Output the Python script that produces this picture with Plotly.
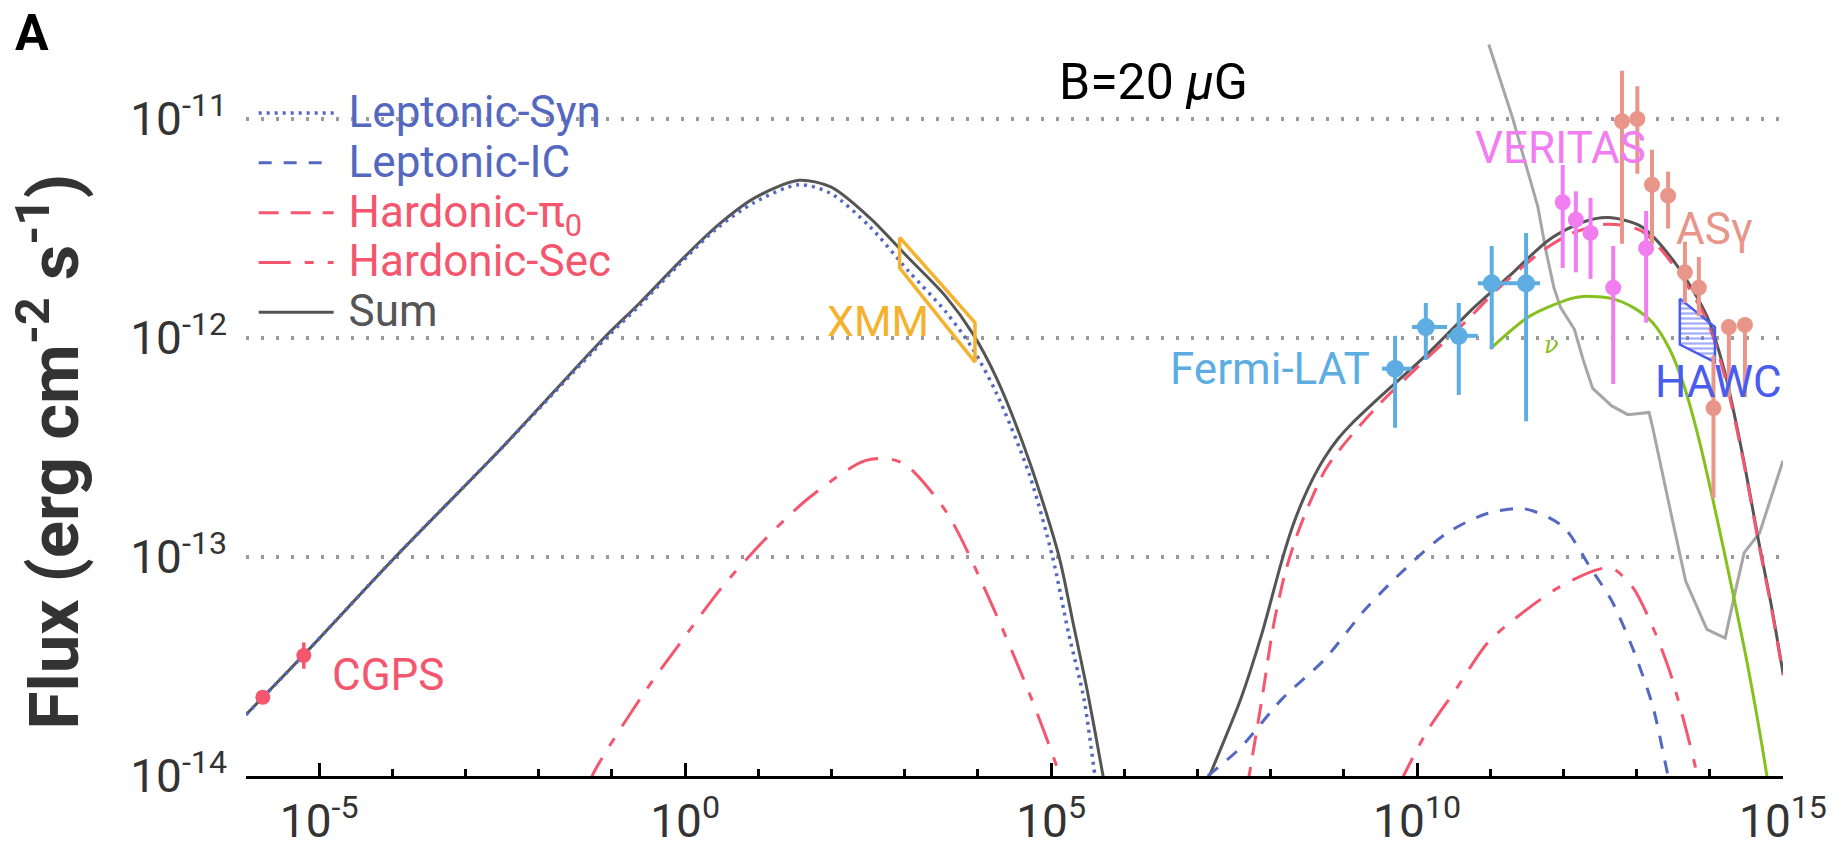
import plotly.graph_objects as go

# ---------------- data (log10 E [eV], log10 flux [erg cm^-2 s^-1]) ----------------
sum_logE = [-6.0, -5.22, -3.96, -2.5, -1.11, -0.62, -0.10, 0.43, 0.95, 1.555, 1.99, 2.52,
            3.04, 3.56, 3.93, 4.25, 4.70, 5.11, 5.30, 5.50, 5.71, 5.76,
            None,
            7.10, 7.35, 7.59, 7.88, 8.15, 8.30, 8.44, 8.58, 8.73, 8.92, 9.11, 9.49, 10.15, 10.78, 11.25, 11.81,
            12.27, 12.61, 13.06, 13.51, 13.96, 14.20, 14.44, 14.68, 14.84, 15.0]
sum_logF = [-13.72, -13.45, -13.0, -12.5, -12.0, -11.84, -11.66, -11.49, -11.36, -11.28, -11.31, -11.45,
            -11.63, -11.81, -11.98, -12.18, -12.56, -13.0, -13.30, -13.62, -14.0, -14.1,
            None,
            -14.05, -13.85, -13.65, -13.35, -13.02, -12.86, -12.74, -12.64, -12.55, -12.46, -12.39, -12.27,
            -12.07, -11.86, -11.72, -11.55,
            -11.47, -11.45, -11.49, -11.65, -11.90, -12.15, -12.52, -12.95, -13.22, -13.53]

syn_logE = [-6.0, -5.22, -3.96, -2.5, -1.11, -0.62, -0.10, 0.43, 0.95, 1.555, 1.99, 2.52,
            3.04, 3.56, 3.93, 4.25, 4.70, 5.02, 5.24, 5.45, 5.60, 5.65]
syn_logF = [-13.72, -13.45, -13.0, -12.5, -12.01, -11.85, -11.67, -11.50, -11.38, -11.30, -11.34, -11.49,
            -11.69, -11.88, -12.05, -12.25, -12.62, -13.0, -13.35, -13.65, -14.0, -14.1]

ic_logE = [7.14, 7.59, 8.15, 8.73, 9.29, 9.85, 10.41, 10.97, 11.47, 11.99, 12.37, 12.66, 12.95, 13.22, 13.43, 13.47]
ic_logF = [-14.0, -13.87, -13.65, -13.47, -13.24, -13.05, -12.89, -12.80, -12.78, -12.86, -13.05, -13.20,
           -13.42, -13.68, -14.0, -14.05]

pi0_logE = [7.68, 7.88, 8.04, 8.20, 8.36, 8.55, 8.75, 8.99, 9.49, 10.08, 10.68, 11.09, 11.72, 12.13, 12.60,
            13.06, 13.51, 13.96, 14.20, 14.44, 14.68, 14.84, 15.0]
pi0_logF = [-14.05, -13.65, -13.31, -13.07, -12.90, -12.74, -12.60, -12.49, -12.30, -12.11, -11.92, -11.78,
            -11.60, -11.52, -11.48, -11.51, -11.67, -11.92, -12.17, -12.53, -12.96, -13.23, -13.54]

sec_logE = [-1.30, -1.27, -0.60, -0.04, 0.50, 1.06, 1.62, 2.18, 2.46, 2.75, 3.02, 3.58, 4.14, 4.70, 5.12, 5.15,
            None,
            9.74, 10.13, 10.52, 10.97, 11.42, 11.93, 12.44, 12.66, 12.95, 13.22, 13.45, 13.67, 13.83, 13.85]
sec_logF = [-14.05, -14.0, -13.64, -13.38, -13.14, -12.93, -12.75, -12.61, -12.56, -12.55, -12.58, -12.80,
            -13.18, -13.62, -14.0, -14.05,
            None,
            -14.05, -13.80, -13.61, -13.39, -13.26, -13.14, -13.06, -13.05, -13.14, -13.32, -13.52, -13.78,
            -14.0, -14.05]

nu_logE = [11.0, 11.54, 12.10, 12.27, 12.66, 12.95, 13.22, 13.45, 13.65, 13.85, 14.05, 14.30, 14.52, 14.78, 14.80]
nu_logF = [-12.05, -11.90, -11.82, -11.81, -11.82, -11.86, -11.93, -12.05, -12.22, -12.46, -12.75, -13.14,
           -13.50, -14.0, -14.05]

sens_logE = [10.98, 11.31, 11.47, 11.65, 11.76, 11.87, 11.96, 12.15, 12.27, 12.40, 12.66, 12.88, 13.17,
             13.22, 13.45, 13.67, 13.96, 14.21, 14.36, 14.47, 14.68, 15.0]
sens_logF = [-10.66, -11.0, -11.19, -11.40, -11.60, -11.77, -11.86, -11.96, -12.10, -12.23, -12.31, -12.35,
             -12.34, -12.41, -12.77, -13.11, -13.33, -13.37, -13.14, -12.98, -12.89, -12.56]

xmm_logE = [2.93, 3.96, 3.96, 2.93, 2.93]
xmm_logF = [-11.54, -11.93, -12.11, -11.68, -11.54]

hawc_logE = [13.59, 14.07, 14.07, 13.59, 13.59]
hawc_logF = [-11.82, -11.95, -12.11, -12.03, -11.82]

cgps_logE = [-5.77, -5.21]
cgps_logF = [-13.64, -13.45]
cgps_lo = [-13.64, -13.51]
cgps_hi = [-13.64, -13.39]

fermi_logE = [9.70, 10.12, 10.57, 11.02, 11.49]
fermi_xlo = [9.52, 9.93, 10.41, 10.83, 11.23]
fermi_xhi = [9.93, 10.41, 10.83, 11.23, 11.68]
fermi_logF = [-12.14, -11.95, -11.99, -11.75, -11.75]
fermi_lo = [-12.41, -12.10, -12.26, -12.05, -12.38]
fermi_hi = [-11.99, -11.84, -11.84, -11.58, -11.52]

ver_logE = [11.99, 12.17, 12.37, 12.68, 13.13]
ver_logF = [-11.38, -11.46, -11.52, -11.77, -11.59]
ver_lo = [-11.68, -11.70, -11.73, -12.21, -11.93]
ver_hi = [-11.21, -11.33, -11.36, -11.58, -11.42]

asg_logE = [12.80, 13.01, 13.21, 13.43, 13.66, 13.85, 14.05, 14.26, 14.48]
asg_logF = [-11.01, -11.00, -11.30, -11.35, -11.70, -11.77, -12.32, -11.95, -11.94]
asg_lo = [-11.57, -11.25, -11.57, -11.50, -11.84, -11.90, -12.73, -12.27, -12.27]
asg_hi = [-10.78, -10.85, -11.14, -11.24, -11.56, -11.63, -12.08, -11.95, -11.94]

y_tickvals = [-14, -13, -12, -11]
x_tickvals = [-5, 0, 5, 10, 15]

# ---------------- colours ----------------
C_SUM = '#555555'
C_LEP = '#5568c0'
C_HAD = '#f4566e'
C_NU = '#86c01e'
C_SENS = '#a6a6a6'
C_XMM = '#f5b22e'
C_FERMI = '#5dade2'
C_VER = '#f07ef0'
C_ASG = '#e8968a'
C_HAWC = '#4a5cf0'


def pw(v):
    return [None if a is None else 10 ** a for a in v]


def errs(c, lo, hi):
    plus = [10 ** h - 10 ** m for m, h in zip(c, hi)]
    minus = [10 ** m - 10 ** l for m, l in zip(c, lo)]
    return plus, minus


def lname(txt, col):
    return ("<span style='font-size:40px'>&nbsp;</span>"
            "<span style='font-size:44px;color:%s'>%s</span>" % (col, txt))


fig = go.Figure()

# sensitivity curve (grey)
fig.add_trace(go.Scatter(x=pw(sens_logE), y=pw(sens_logF), mode='lines',
                         line=dict(color=C_SENS, width=3), showlegend=False))

# Sum
fig.add_trace(go.Scatter(x=pw(sum_logE), y=pw(sum_logF), mode='lines', name=lname('Sum', C_SUM),
                         line=dict(color=C_SUM, width=3, shape='spline', smoothing=0.8),
                         connectgaps=False, legendrank=5))
# Leptonic-Syn
fig.add_trace(go.Scatter(x=pw(syn_logE), y=pw(syn_logF), mode='lines', name=lname('Leptonic-Syn', C_LEP),
                         line=dict(color=C_LEP, width=3.5, dash='3px,5px', shape='spline', smoothing=0.8),
                         legendrank=1))
# Leptonic-IC
fig.add_trace(go.Scatter(x=pw(ic_logE), y=pw(ic_logF), mode='lines', name=lname('Leptonic-IC', C_LEP),
                         line=dict(color=C_LEP, width=3, dash='13px,12px', shape='spline', smoothing=0.8),
                         legendrank=2))
# Hadronic pi0
fig.add_trace(go.Scatter(x=pw(pi0_logE), y=pw(pi0_logF), mode='lines',
                         name=lname('Hardonic-π<sub>0</sub>', C_HAD),
                         line=dict(color=C_HAD, width=3, dash='20px,12px', shape='spline', smoothing=0.8),
                         legendrank=3))
# Hadronic Sec
fig.add_trace(go.Scatter(x=pw(sec_logE), y=pw(sec_logF), mode='lines', name=lname('Hardonic-Sec', C_HAD),
                         line=dict(color=C_HAD, width=3, dash='32px,14px,9px,14px', shape='spline', smoothing=0.8),
                         connectgaps=False, legendrank=4))
# neutrino
fig.add_trace(go.Scatter(x=pw(nu_logE), y=pw(nu_logF), mode='lines',
                         line=dict(color=C_NU, width=3, shape='spline', smoothing=0.8), showlegend=False))

# XMM bowtie
fig.add_trace(go.Scatter(x=pw(xmm_logE), y=pw(xmm_logF), mode='lines',
                         line=dict(color=C_XMM, width=3.5), showlegend=False))

# HAWC hatched region
fig.add_trace(go.Scatter(x=pw(hawc_logE), y=pw(hawc_logF), mode='lines', fill='toself',
                         fillcolor='rgba(0,0,0,0)',
                         fillpattern=dict(shape='-', fgcolor=C_HAWC, bgcolor='rgba(0,0,0,0)', size=5, solidity=0.45),
                         line=dict(color=C_HAWC, width=2.5), showlegend=False))

# CGPS
p, m = errs(cgps_logF, cgps_lo, cgps_hi)
fig.add_trace(go.Scatter(x=pw(cgps_logE), y=pw(cgps_logF), mode='markers',
                         marker=dict(color=C_HAD, size=15),
                         error_y=dict(type='data', symmetric=False, array=p, arrayminus=m,
                                      color=C_HAD, thickness=3.5, width=0),
                         showlegend=False))

# Fermi-LAT
p, m = errs(fermi_logF, fermi_lo, fermi_hi)
xp = [10 ** h - 10 ** c for c, h in zip(fermi_logE, fermi_xhi)]
xm = [10 ** c - 10 ** l for c, l in zip(fermi_logE, fermi_xlo)]
fig.add_trace(go.Scatter(x=pw(fermi_logE), y=pw(fermi_logF), mode='markers',
                         marker=dict(color=C_FERMI, size=18),
                         error_y=dict(type='data', symmetric=False, array=p, arrayminus=m,
                                      color=C_FERMI, thickness=4, width=0),
                         error_x=dict(type='data', symmetric=False, array=xp, arrayminus=xm,
                                      color=C_FERMI, thickness=4, width=0),
                         showlegend=False))

# VERITAS
p, m = errs(ver_logF, ver_lo, ver_hi)
fig.add_trace(go.Scatter(x=pw(ver_logE), y=pw(ver_logF), mode='markers',
                         marker=dict(color=C_VER, size=16),
                         error_y=dict(type='data', symmetric=False, array=p, arrayminus=m,
                                      color=C_VER, thickness=4, width=0),
                         showlegend=False))

# ASgamma
p, m = errs(asg_logF, asg_lo, asg_hi)
fig.add_trace(go.Scatter(x=pw(asg_logE), y=pw(asg_logF), mode='markers',
                         marker=dict(color=C_ASG, size=16),
                         error_y=dict(type='data', symmetric=False, array=p, arrayminus=m,
                                      color=C_ASG, thickness=4, width=0),
                         showlegend=False))

# ---------------- annotations ----------------
ann = []
F = 'Roboto'
ann.append(dict(xref='paper', yref='paper', x=-0.139, y=0.997, text='<b>A</b>', showarrow=False,
                font=dict(family=F, size=50, color='black'), xanchor='center', yanchor='middle'))
ann.append(dict(x=6.40, y=-10.83, text='B=20 <i>μ</i>G', showarrow=False,
                font=dict(family=F, size=50, color='black'), xanchor='center', yanchor='middle'))
ann.append(dict(x=2.63, y=-11.92, text='XMM', showarrow=False,
                font=dict(family=F, size=43, color=C_XMM), xanchor='center', yanchor='middle'))
ann.append(dict(x=-4.05, y=-13.54, text='CGPS', showarrow=False,
                font=dict(family=F, size=44, color=C_HAD), xanchor='center', yanchor='middle'))
ann.append(dict(x=9.38, y=-12.14, text='Fermi-LAT', showarrow=False,
                font=dict(family=F, size=44, color=C_FERMI), xanchor='right', yanchor='middle'))
ann.append(dict(x=11.96, y=-11.13, text='VERITAS', showarrow=False,
                font=dict(family=F, size=44, color=C_VER), xanchor='center', yanchor='middle'))
ann.append(dict(x=14.07, y=-11.50, text='ASγ', showarrow=False,
                font=dict(family=F, size=44, color=C_ASG), xanchor='center', yanchor='middle'))
ann.append(dict(x=14.12, y=-12.20, text='HAWC', showarrow=False,
                font=dict(family=F, size=44, color=C_HAWC), xanchor='center', yanchor='middle'))
ann.append(dict(x=11.84, y=-12.03, text='<i>ν</i>', showarrow=False,
                font=dict(family='DejaVu Serif', size=24, color=C_NU), xanchor='center', yanchor='middle'))
ann.append(dict(xref='paper', yref='paper', x=-0.128, y=0.436, textangle=-90,
                text='<b>Flux (erg cm<sup>-2</sup> s<sup>-1</sup>)</b>', showarrow=False,
                font=dict(family=F, size=69, color='#333333'), xanchor='center', yanchor='middle'))

# white strip hiding the top grid line behind the legend text (drawn under the traces)
shapes = [dict(type='rect', xref='paper', yref='paper', x0=0, x1=0.2446, y0=0.868, y1=0.896,
               fillcolor='white', line=dict(width=0), layer='between')]

fig.update_layout(
    width=1846, height=845,
    margin=dict(l=246, r=63, t=31, b=69, autoexpand=False),
    paper_bgcolor='white', plot_bgcolor='white',
    font=dict(family=F, color='#333333'),
    annotations=ann,
    shapes=shapes,
    legend=dict(x=0.005, y=0.93, xanchor='left', yanchor='top', bgcolor='rgba(0,0,0,0)',
                font=dict(size=36, family=F), itemwidth=75, tracegroupgap=0,
                traceorder='normal'),
)

fig.update_xaxes(type='log', range=[-6, 15], showline=True, linecolor='black', linewidth=3,
                 automargin=False,
                 ticks='inside', ticklen=13, tickwidth=3, tickcolor='black',
                 tickvals=[10 ** v for v in x_tickvals],
                 ticktext=['10<sup>%d</sup>' % v for v in x_tickvals],
                 tickfont=dict(size=46, color='#333333', family=F),
                 ticklabelstandoff=3,
                 showgrid=False, zeroline=False,
                 minor=dict(ticks='inside', ticklen=7, tickwidth=3, tickcolor='black', dtick=1, tick0=0,
                            showgrid=False))
fig.update_yaxes(type='log', range=[-14, -10.598], showline=False, ticks='',
                 automargin=False,
                 tickvals=[10 ** v for v in y_tickvals],
                 ticktext=['10<sup>%d</sup>' % v for v in y_tickvals],
                 tickfont=dict(size=46, color='#333333', family=F),
                 ticklabelstandoff=18,
                 showgrid=True, gridcolor='#9a9a9a', gridwidth=3.5, griddash='3px,12px',
                 zeroline=False)

fig.write_html('out.html')
